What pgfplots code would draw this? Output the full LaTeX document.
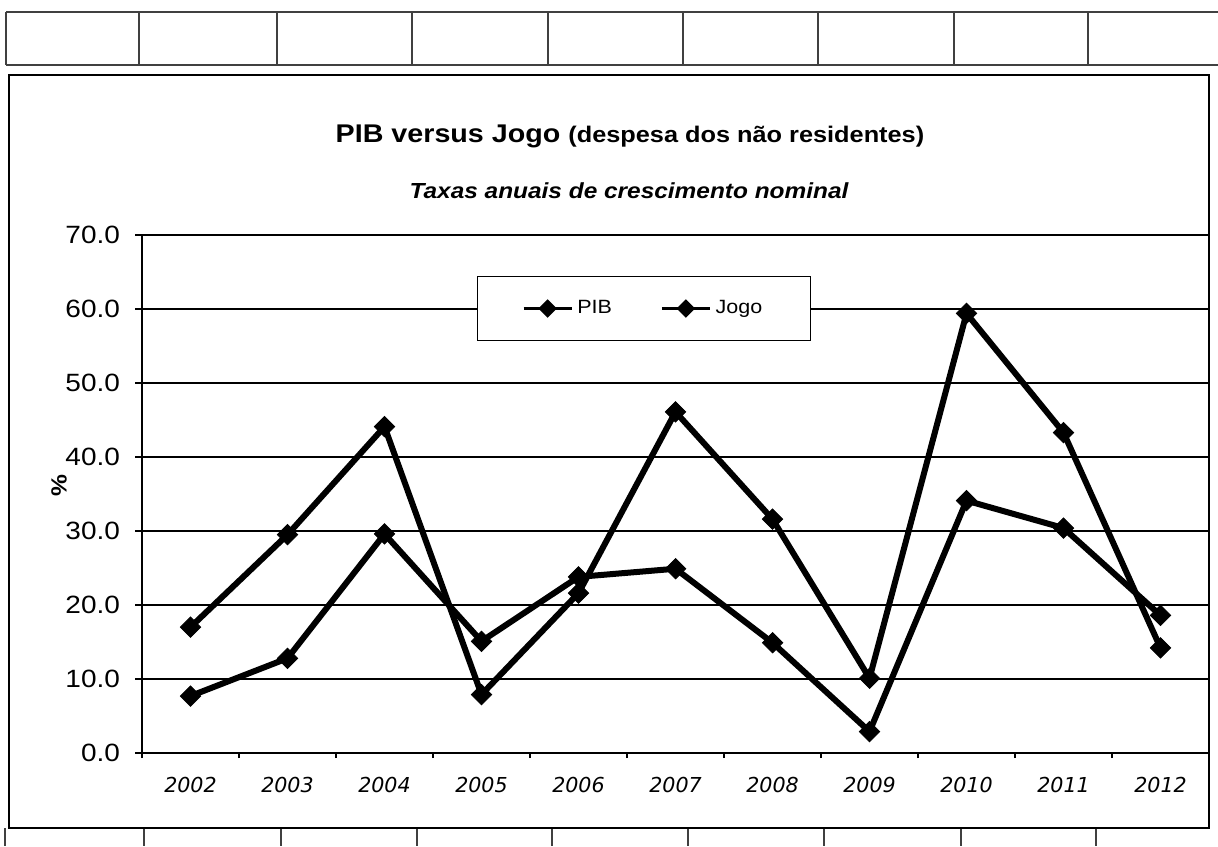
\documentclass[border=0pt]{standalone}
\usepackage{pgfplots}
\pgfplotsset{compat=1.18}
\usepackage{fontspec}
\setmainfont[FakeStretch=1.12]{Liberation Sans}
\newfontfamily\xfont{DejaVu Sans}
\begin{document}
\begin{tikzpicture}[x=1pt,y=1pt]
\useasboundingbox (0,0) rectangle (609,423);
% spreadsheet cell lines around the chart
\begin{scope}[line width=0.6pt, black!75]
\draw (3,417) -- (609,417);
\draw (3,390.5) -- (609,390.5);
\foreach \x in {3,69.5,138.5,206,274,341.5,409,477,544} \draw (\x,417) -- (\x,390.5);
\foreach \x in {2.5,72,140.5,208.5,276,344,412,480.5,548} \draw (\x,9) -- (\x,0);
\end{scope}
\draw[line width=0.9pt] (4.5,9) rectangle (604.5,385.5);
\begin{axis}[
  at={(71pt,46.5pt)}, anchor=south west,
  scale only axis, width=533.5pt, height=259pt,
  xmin=-0.5, xmax=10.5, ymin=0, ymax=70,
  axis lines=left, axis line style={-, line width=0.6pt},
  tick align=outside,
  xtick={0,...,10},
  xticklabels={2002,2003,2004,2005,2006,2007,2008,2009,2010,2011,2012},
  minor xtick={-0.5,0.5,...,10.5},
  major x tick style={draw=none},
  minor x tick style={black, line width=0.6pt},
  minor tick length=2.5pt,
  major tick length=3.5pt,
  y tick style={black, line width=0.6pt},
  ytick={0,10,...,70},
  xticklabel style={font=\xfont\itshape\fontsize{10.3}{12}\selectfont, yshift=-5pt},
  yticklabel style={/pgf/number format/fixed, /pgf/number format/fixed zerofill,
    /pgf/number format/precision=1, /pgf/number format/assume math mode=true,
    font=\fontsize{12.5}{14}\selectfont, xshift=-4pt},
  ymajorgrids, major grid style={black, line width=0.6pt},
  ylabel={\%},
  every axis y label/.style={at={(axis description cs:-0.0778,0.517)}, rotate=90, anchor=center, font=\bfseries\fontsize{11}{13}\selectfont},
  legend columns=2,
  legend style={at={(axis description cs:0.4705,0.858)}, anchor=center,
    draw=black, line width=0.6pt, fill=white, inner xsep=22pt, inner ysep=10pt,
    font=\fontsize{9.6}{11}\selectfont,
    /tikz/every even column/.append style={column sep=22pt}},
  legend cell align=left,
  legend image code/.code={\draw[line width=1.8pt] (0pt,0pt) -- (24pt,0pt);
    \fill (12pt,2.5pt) -- (14.5pt,0pt) -- (12pt,-2.5pt) -- (9.5pt,0pt) -- cycle;},
]
\addplot[black, line width=3pt, mark=square*, mark size=3.6pt, mark options={solid, rotate=45, line width=0.4pt}]
  coordinates {(0,7.7) (1,12.8) (2,29.6) (3,15.1) (4,23.8) (5,24.9) (6,14.9) (7,2.9) (8,34.1) (9,30.4) (10,18.6)};
\addlegendentry{PIB}
\addplot[black, line width=3pt, mark=square*, mark size=3.6pt, mark options={solid, rotate=45, line width=0.4pt}]
  coordinates {(0,17.0) (1,29.5) (2,44.1) (3,7.9) (4,21.6) (5,46.1) (6,31.6) (7,10.1) (8,59.4) (9,43.3) (10,14.2)};
\addlegendentry{Jogo}
\end{axis}
\node[anchor=base, inner sep=0] at (315,351.5) {\fontsize{12.8}{15}\selectfont\bfseries PIB versus Jogo {\fontsize{11.3}{13}\selectfont(despesa dos não residentes)}};
\node[anchor=base, inner sep=0] at (314.5,323.5) {\fontsize{10.9}{13}\selectfont\bfseries\itshape Taxas anuais de crescimento nominal};
\end{tikzpicture}
\end{document}
